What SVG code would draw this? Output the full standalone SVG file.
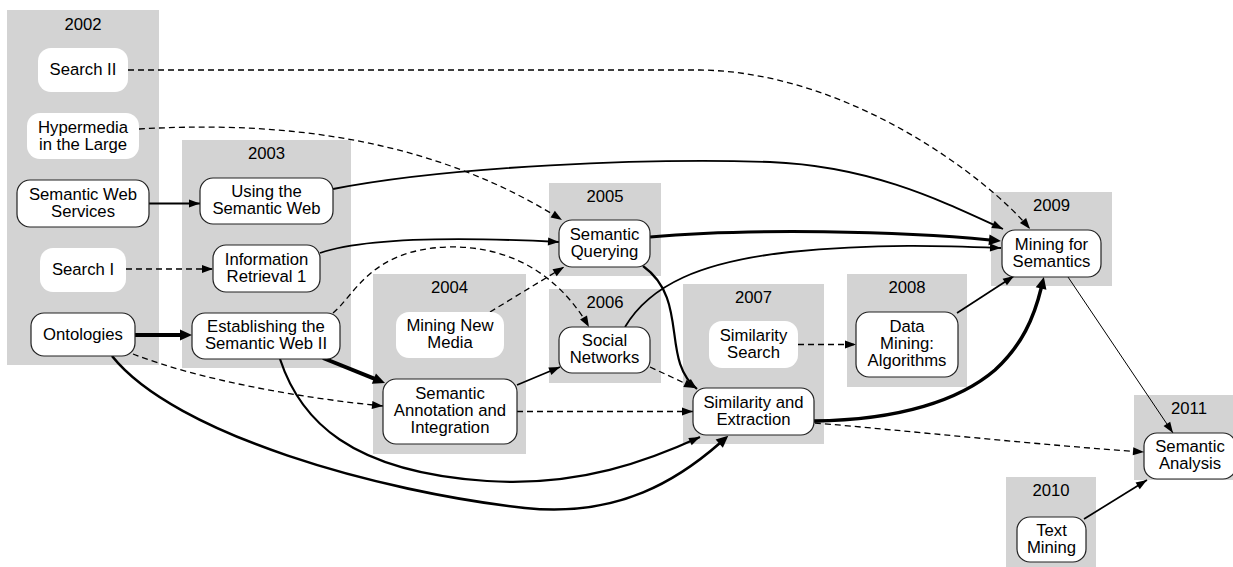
<svg xmlns="http://www.w3.org/2000/svg" width="1233" height="567" viewBox="0 0 1233 567">
  <style>
    .cluster { fill: #d3d3d3; stroke: none; }
    .year { font-family: "Liberation Sans", Arial, sans-serif; font-size: 16.7px; fill: #000; text-anchor: middle; }
    .box { fill: #fff; stroke: #222; stroke-width: 1.2; }
    .plain { fill: #fff; stroke: none; }
    .lbl { font-family: "Liberation Sans", Arial, sans-serif; font-size: 16.7px; fill: #000; text-anchor: middle; }
    .e { fill: none; stroke: #000; stroke-width: 1.8; }
    .dash { fill: none; stroke: #000; stroke-width: 1.3; stroke-dasharray: 6 4; }
    .thin { fill: none; stroke: #000; stroke-width: 1; }
  </style>
  <defs>
    <marker id="head" markerUnits="userSpaceOnUse" markerWidth="11" markerHeight="8" refX="11" refY="4" orient="auto" overflow="visible">
      <path d="M0,0 L11,4 L0,8 z" fill="#000"/>
    </marker>
    <marker id="head-bold" markerUnits="userSpaceOnUse" markerWidth="12" markerHeight="11" refX="1" refY="5.5" orient="auto" overflow="visible">
      <path d="M0,0 L12,5.5 L0,11 z" fill="#000"/>
    </marker>
  </defs>

  <!-- year clusters -->
  <g id="clusters">
    <rect class="cluster" x="7" y="10" width="152" height="355"/>
    <text class="year" x="83" y="29.5">2002</text>
    <rect class="cluster" x="182" y="140" width="169" height="228"/>
    <text class="year" x="266.5" y="159">2003</text>
    <rect class="cluster" x="373" y="274" width="153" height="180"/>
    <text class="year" x="449.5" y="293">2004</text>
    <rect class="cluster" x="549" y="183" width="112" height="93"/>
    <text class="year" x="605" y="202">2005</text>
    <rect class="cluster" x="549" y="289" width="112" height="94"/>
    <text class="year" x="605" y="308">2006</text>
    <rect class="cluster" x="683" y="284" width="141" height="160"/>
    <text class="year" x="753.5" y="303">2007</text>
    <rect class="cluster" x="847" y="274" width="120" height="113"/>
    <text class="year" x="907" y="293">2008</text>
    <rect class="cluster" x="991" y="192" width="121" height="94"/>
    <text class="year" x="1051.5" y="211">2009</text>
    <rect class="cluster" x="1006" y="477" width="90" height="90"/>
    <text class="year" x="1051" y="496">2010</text>
    <rect class="cluster" x="1134" y="395" width="110" height="85"/>
    <text class="year" x="1189" y="414">2011</text>
  </g>

  <!-- connectors -->
  <g id="edges">
    <path class="dash" d="M128,70 L700,70 C850,72 990,180 1030,229" marker-end="url(#head)"/>
    <path class="dash" d="M139,129 C260,122 420,130 562,220" marker-end="url(#head)"/>
    <path class="e" d="M149,203.5 L200,203.5" marker-end="url(#head)"/>
    <path class="dash" d="M126,269 L213,269" marker-end="url(#head)"/>
    <path class="e" style="stroke-width:4" d="M135,335 L181,335" marker-end="url(#head-bold)"/>
    <path class="dash" d="M133,354 C200,380 300,398 383,406" marker-end="url(#head)"/>
    <path class="e" style="stroke-width:2.6" d="M112,356 C175,435 380,492 525,508 C620,518 680,478 720,443" marker-end="url(#head-bold)"/>
    <path class="e" style="stroke-width:2.2" d="M280,359 C300,420 350,472 487,481 C580,487 650,460 700,437" marker-end="url(#head)"/>
    <path class="dash" d="M333,313 C355,295 370,250 447,247 C520,245 565,285 589,327" marker-end="url(#head)"/>
    <path class="e" style="stroke-width:4" d="M323,358 L374.8,378.9" marker-end="url(#head-bold)"/>
    <path class="e" d="M320,253 C370,236 480,238 559,242" marker-end="url(#head)"/>
    <path class="e" d="M333,189 C450,166 650,158 770,162 C870,166 940,200 1003,229" marker-end="url(#head)"/>
    <path class="e" style="stroke-width:3" d="M650,237 C750,228 900,231 990,240" marker-end="url(#head-bold)"/>
    <path class="e" d="M625,327 C650,285 700,262 790,252 C880,243 950,246 1001,248" marker-end="url(#head)"/>
    <path class="e" style="stroke-width:2.2" d="M643,266 C690,300 660,360 697,389" marker-end="url(#head)"/>
    <path class="dash" d="M650,367 L695,388" marker-end="url(#head)"/>
    <path class="dash" d="M490,312 L564,267" marker-end="url(#head)"/>
    <path class="e" style="stroke-width:1.7" d="M517,385 L560,367" marker-end="url(#head)"/>
    <path class="dash" d="M517,411.5 L693,411.5" marker-end="url(#head)"/>
    <path class="dash" d="M798,344.5 L856,344.5" marker-end="url(#head)"/>
    <path class="e" style="stroke-width:1.7" d="M957,313 L1014,276" marker-end="url(#head)"/>
    <path class="e" style="stroke-width:3.5" d="M814,421 C900,420 960,400 995,370 C1022,345 1034,318 1041.3,287.6" marker-end="url(#head-bold)"/>
    <path class="dash" d="M815,423 C900,430 1050,446 1144,452" marker-end="url(#head)"/>
    <path class="thin" d="M1068,277 L1173,433" marker-end="url(#head)"/>
    <path class="e" style="stroke-width:1.7" d="M1084,519 L1147,480" marker-end="url(#head)"/>
  </g>

  <!-- topics -->
  <g id="search-ii">
    <rect class="plain" x="38" y="48" width="90" height="44" rx="13"/>
    <text class="lbl" x="83" y="75">Search II</text>
  </g>
  <g id="hypermedia">
    <rect class="plain" x="27" y="113" width="112" height="46" rx="13"/>
    <text class="lbl" x="83" y="132.5">Hypermedia</text>
    <text class="lbl" x="83" y="149.5">in the Large</text>
  </g>
  <g id="semantic-web-services">
    <rect class="box" x="17" y="180" width="132" height="47" rx="13"/>
    <text class="lbl" x="83" y="199.5">Semantic Web</text>
    <text class="lbl" x="83" y="216.8">Services</text>
  </g>
  <g id="search-i">
    <rect class="plain" x="40" y="248" width="86" height="44" rx="13"/>
    <text class="lbl" x="83" y="275">Search I</text>
  </g>
  <g id="ontologies">
    <rect class="box" x="31" y="313" width="104" height="43" rx="13"/>
    <text class="lbl" x="83" y="340">Ontologies</text>
  </g>
  <g id="using-semantic-web">
    <rect class="box" x="200" y="178" width="133" height="46" rx="13"/>
    <text class="lbl" x="266.5" y="197">Using the</text>
    <text class="lbl" x="266.5" y="214.3">Semantic Web</text>
  </g>
  <g id="information-retrieval">
    <rect class="box" x="213" y="245" width="107" height="47" rx="13"/>
    <text class="lbl" x="266.5" y="264.5">Information</text>
    <text class="lbl" x="266.5" y="281.8">Retrieval 1</text>
  </g>
  <g id="establishing">
    <rect class="box" x="192" y="313" width="148" height="46" rx="13"/>
    <text class="lbl" x="266" y="332">Establishing the</text>
    <text class="lbl" x="266" y="349.3">Semantic Web II</text>
  </g>
  <g id="mining-new-media">
    <rect class="plain" x="396" y="312" width="108" height="46" rx="13"/>
    <text class="lbl" x="450" y="331">Mining New</text>
    <text class="lbl" x="450" y="348.3">Media</text>
  </g>
  <g id="semantic-annotation">
    <rect class="box" x="383" y="379" width="134" height="65" rx="13"/>
    <text class="lbl" x="450" y="398.7">Semantic</text>
    <text class="lbl" x="450" y="416">Annotation and</text>
    <text class="lbl" x="450" y="433.3">Integration</text>
  </g>
  <g id="semantic-querying">
    <rect class="box" x="559" y="220" width="91" height="47" rx="13"/>
    <text class="lbl" x="604.5" y="239.5">Semantic</text>
    <text class="lbl" x="604.5" y="256.8">Querying</text>
  </g>
  <g id="social-networks">
    <rect class="box" x="559" y="327" width="91" height="46" rx="13"/>
    <text class="lbl" x="604.5" y="346">Social</text>
    <text class="lbl" x="604.5" y="363.3">Networks</text>
  </g>
  <g id="similarity-search">
    <rect class="plain" x="709" y="321" width="89" height="47" rx="13"/>
    <text class="lbl" x="753.5" y="340.5">Similarity</text>
    <text class="lbl" x="753.5" y="357.8">Search</text>
  </g>
  <g id="similarity-extraction">
    <rect class="box" x="693" y="388" width="121" height="47" rx="13"/>
    <text class="lbl" x="753.5" y="407.5">Similarity and</text>
    <text class="lbl" x="753.5" y="424.8">Extraction</text>
  </g>
  <g id="data-mining">
    <rect class="box" x="856" y="312" width="102" height="65" rx="13"/>
    <text class="lbl" x="907" y="331.7">Data</text>
    <text class="lbl" x="907" y="349">Mining:</text>
    <text class="lbl" x="907" y="366.3">Algorithms</text>
  </g>
  <g id="mining-for-semantics">
    <rect class="box" x="1002" y="230" width="99" height="47" rx="13"/>
    <text class="lbl" x="1051.5" y="249.5">Mining for</text>
    <text class="lbl" x="1051.5" y="266.8">Semantics</text>
  </g>
  <g id="text-mining">
    <rect class="box" x="1017" y="517" width="69" height="45" rx="13"/>
    <text class="lbl" x="1051.5" y="535.5">Text</text>
    <text class="lbl" x="1051.5" y="552.8">Mining</text>
  </g>
  <g id="semantic-analysis">
    <rect class="box" x="1144" y="433" width="92" height="46" rx="13"/>
    <text class="lbl" x="1190" y="452">Semantic</text>
    <text class="lbl" x="1190" y="469.3">Analysis</text>
  </g>
</svg>
